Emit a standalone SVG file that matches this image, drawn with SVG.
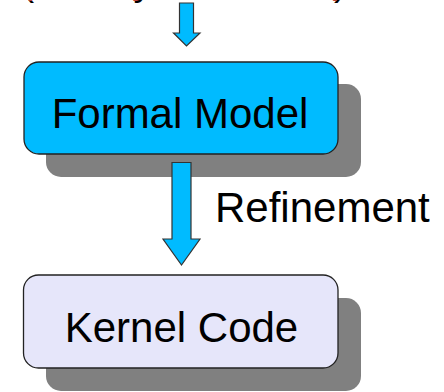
<svg xmlns="http://www.w3.org/2000/svg" width="444" height="392" viewBox="0 0 444 392">
  <defs>
    <style>
      .lbl { font-family: "Liberation Sans", Arial, sans-serif; font-size: 42px; fill: #000; }
      .shadow { fill: #808080; }
      .box { stroke: #222; stroke-width: 1.3; }
      .model { fill: #00bbff; }
      .code { fill: #e6e6fa; }
      .arrow { fill: #00bbff; stroke: #333; stroke-width: 1.2; stroke-linejoin: miter; }
      .note { font-family: "Liberation Sans", Arial, sans-serif; font-size: 38px; }
    </style>
  </defs>

  <rect width="444" height="392" fill="#fff"/>

  <!-- caption above, running off the top edge -->
  <g id="caption">
    <text class="note" x="21.5" y="-5.5" fill="#000">(Theory in Isabelle)</text>
    <text class="note" x="20" y="-7" fill="#c0403c">(Theory in Isabelle)</text>
  </g>

  <g id="connectors">
    <polygon class="arrow" points="179.5,3 193.5,3 193.5,33 200,33 186.5,46 173.5,33 179.5,33"/>
    <text class="lbl" x="215" y="222">Refinement</text>
  </g>

  <g id="formal-model">
    <rect class="shadow" x="46" y="84" width="315" height="93" rx="15"/>
    <rect class="box model" x="24" y="62" width="314" height="92" rx="15"/>
    <text class="lbl" x="180" y="128" text-anchor="middle">Formal Model</text>
  </g>

  <!-- refinement arrow, drawn over the shadow of the box above -->
  <g id="refinement-arrow">
    <polygon class="arrow" points="172,162.5 191,162.5 191,239 200,239 181.5,265 163,239 172,239"/>
  </g>

  <g id="kernel-code">
    <rect class="shadow" x="46" y="298" width="315" height="93" rx="15"/>
    <rect class="box code" x="23.5" y="275" width="314.5" height="93" rx="15"/>
    <text class="lbl" x="181.5" y="342" text-anchor="middle">Kernel Code</text>
  </g>
</svg>
